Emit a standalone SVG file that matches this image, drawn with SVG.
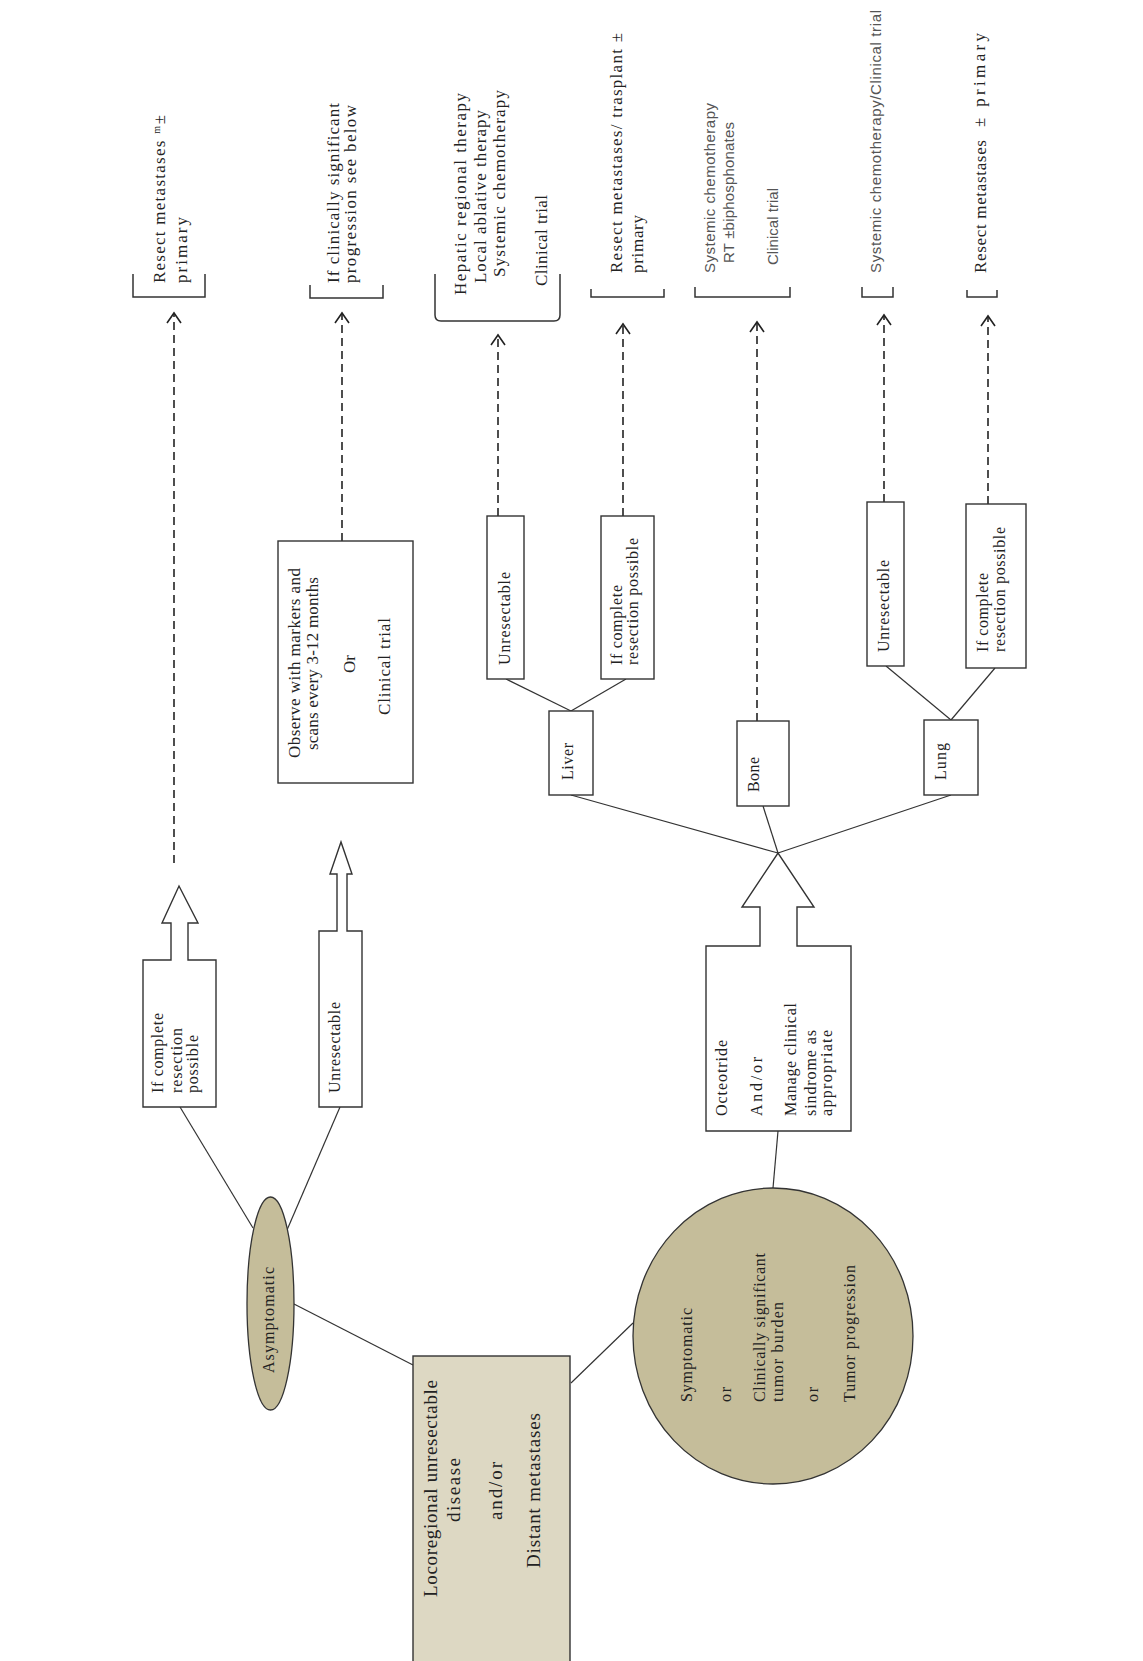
<svg xmlns="http://www.w3.org/2000/svg" width="1143" height="1661" viewBox="0 0 1143 1661">
<style>
.bg{fill:#ffffff}
.box{fill:#ffffff;stroke:#333;stroke-width:1.4}
.tan{fill:#c5bd9a;stroke:#333;stroke-width:1.3}
.ltan{fill:#ddd8c3;stroke:#333;stroke-width:1.4}
.ln{stroke:#333;stroke-width:1.2;fill:none}
.dash{stroke:#222;stroke-width:1.6;fill:none;stroke-dasharray:8 5}
.br{stroke:#333;stroke-width:1.5;fill:none}
.t{font-family:"Liberation Serif","DejaVu Serif",serif;font-size:17px;fill:#222}
.tl{font-family:"Liberation Serif","DejaVu Serif",serif;font-size:19px;fill:#222}
.ts{font-family:"Liberation Serif","DejaVu Serif",serif;font-size:16px;fill:#222}
.s{font-family:"Liberation Sans","Open Sans",sans-serif;font-size:15px;fill:#555}
</style>
<rect class="bg" x="0" y="0" width="1143" height="1661"/>

<g id="connectors">
<line class="dash" x1="174" y1="863" x2="174" y2="313"/>
<line class="dash" x1="342" y1="541" x2="342" y2="313"/>
<line class="dash" x1="498" y1="516" x2="498" y2="335"/>
<line class="dash" x1="623" y1="516" x2="623" y2="324"/>
<line class="dash" x1="757" y1="721" x2="757" y2="322"/>
<line class="dash" x1="884" y1="502" x2="884" y2="315"/>
<line class="dash" x1="988" y1="504" x2="988" y2="316"/>
<g fill="none" stroke="#222" stroke-width="1.6">
<path d="M167,323 L174,313 L181,323"/>
<path d="M335,323 L342,313 L349,323"/>
<path d="M491,345 L498,335 L505,345"/>
<path d="M616,334 L623,324 L630,334"/>
<path d="M750,332 L757,322 L764,332"/>
<path d="M877,325 L884,315 L891,325"/>
<path d="M981,326 L988,316 L995,326"/>
</g>
<line class="ln" x1="253" y1="1228" x2="180" y2="1107"/>
<line class="ln" x1="287" y1="1230" x2="340" y2="1107"/>
<line class="ln" x1="294" y1="1304" x2="413" y2="1365"/>
<line class="ln" x1="571" y1="1383" x2="633" y2="1323"/>
<line class="ln" x1="773" y1="1188" x2="778" y2="1131"/>
<line class="ln" x1="571" y1="795" x2="778" y2="853"/>
<line class="ln" x1="763" y1="806" x2="778" y2="853"/>
<line class="ln" x1="951" y1="795" x2="778" y2="853"/>
<line class="ln" x1="571" y1="711" x2="506" y2="679"/>
<line class="ln" x1="571" y1="711" x2="626" y2="679"/>
<line class="ln" x1="951" y1="720" x2="886" y2="666"/>
<line class="ln" x1="951" y1="720" x2="995" y2="668"/>
</g>

<g id="outcome-1">
<path class="br" d="M133,274 L133,297 L205,297 L205,274"/>
<text class="t" transform="translate(165,283) rotate(-90)" textLength="168" lengthAdjust="spacing">Resect metastases ᵐ±</text>
<text class="t" transform="translate(187,283) rotate(-90)" textLength="66" lengthAdjust="spacing">primary</text>
</g>
<g id="outcome-2">
<path class="br" d="M310,285 L310,298 L383,298 L383,285"/>
<text class="t" transform="translate(339,283) rotate(-90)" textLength="180" lengthAdjust="spacing">If clinically significant</text>
<text class="t" transform="translate(356,283) rotate(-90)" textLength="178" lengthAdjust="spacing">progression see below</text>
</g>
<g id="outcome-3">
<path class="br" d="M435,274 L435,315 Q435,321 441,321 L554,321 Q560,321 560,315 L560,274"/>
<text class="t" transform="translate(466,295) rotate(-90)" textLength="202" lengthAdjust="spacing">Hepatic regional therapy</text>
<text class="t" transform="translate(486,283) rotate(-90)" textLength="173" lengthAdjust="spacing">Local ablative therapy</text>
<text class="t" transform="translate(505,277) rotate(-90)" textLength="187" lengthAdjust="spacing">Systemic chemotherapy</text>
<text class="t" transform="translate(547,286) rotate(-90)" textLength="91" lengthAdjust="spacing">Clinical trial</text>
</g>
<g id="outcome-4">
<path class="br" d="M591,289 L591,297 L664,297 L664,289"/>
<text class="t" transform="translate(622,273) rotate(-90)" textLength="240" lengthAdjust="spacing">Resect metastases/ trasplant ±</text>
<text class="t" transform="translate(643,273) rotate(-90)" textLength="58" lengthAdjust="spacing">primary</text>
</g>
<g id="outcome-5">
<path class="br" d="M695,287 L695,297 L790,297 L790,287"/>
<text class="s" transform="translate(715,273) rotate(-90)" textLength="170" lengthAdjust="spacing">Systemic chemotherapy</text>
<text class="s" transform="translate(734,263) rotate(-90)" textLength="141" lengthAdjust="spacing">RT ±biphosphonates</text>
<text class="s" transform="translate(778,265) rotate(-90)" textLength="77" lengthAdjust="spacing">Clinical trial</text>
</g>
<g id="outcome-6">
<path class="br" d="M862,287 L862,297 L893,297 L893,287"/>
<text class="s" transform="translate(881,273) rotate(-90)" textLength="263" lengthAdjust="spacing">Systemic chemotherapy/Clinical trial</text>
</g>
<g id="outcome-7">
<path class="br" d="M967,290 L967,297 L997,297 L997,290"/>
<text class="t" transform="translate(986,273) rotate(-90)" textLength="133" lengthAdjust="spacing">Resect metastases</text>
<text class="t" transform="translate(985,127) rotate(-90)" textLength="94" lengthAdjust="spacing">± primary</text>
</g>

<g id="observe">
<rect class="box" x="278" y="541" width="135" height="242"/>
<text class="t" transform="translate(300,758) rotate(-90)" textLength="190" lengthAdjust="spacing">Observe with markers and</text>
<text class="t" transform="translate(318,750) rotate(-90)" textLength="173" lengthAdjust="spacing">scans every 3-12 months</text>
<text class="t" transform="translate(355,673) rotate(-90)" textLength="18" lengthAdjust="spacing">Or</text>
<text class="t" transform="translate(390,715) rotate(-90)" textLength="97" lengthAdjust="spacing">Clinical trial</text>
</g>

<g id="asym-resectable">
<path class="box" d="M143,1107 L143,960 L171,960 L171,923 L162,923 L179,886 L198,923 L188,923 L188,960 L216,960 L216,1107 Z"/>
<text class="ts" transform="translate(163,1093) rotate(-90)" textLength="80" lengthAdjust="spacing">If complete</text>
<text class="ts" transform="translate(182,1093) rotate(-90)" textLength="65" lengthAdjust="spacing">resection</text>
<text class="ts" transform="translate(198,1093) rotate(-90)" textLength="58" lengthAdjust="spacing">possible</text>
</g>
<g id="asym-unresectable">
<path class="box" d="M319,1107 L319,931 L337,931 L337,874 L330,874 L341,842 L352,874 L347,874 L347,931 L362,931 L362,1107 Z"/>
<text class="ts" transform="translate(340,1093) rotate(-90)" textLength="91" lengthAdjust="spacing">Unresectable</text>
</g>

<g id="liver-unresectable">
<rect class="box" x="487" y="516" width="37" height="163"/>
<text class="ts" transform="translate(510,665) rotate(-90)" textLength="93" lengthAdjust="spacing">Unresectable</text>
</g>
<g id="liver-resectable">
<rect class="box" x="601" y="516" width="53" height="163"/>
<text class="ts" transform="translate(622,665) rotate(-90)" textLength="80" lengthAdjust="spacing">If complete</text>
<text class="ts" transform="translate(638,665) rotate(-90)" textLength="127" lengthAdjust="spacing">resection possible</text>
</g>
<g id="liver">
<rect class="box" x="549" y="711" width="44" height="84"/>
<text class="ts" transform="translate(573,780) rotate(-90)" textLength="37" lengthAdjust="spacing">Liver</text>
</g>
<g id="bone">
<rect class="box" x="737" y="721" width="52" height="85"/>
<text class="ts" transform="translate(759,792) rotate(-90)" textLength="35" lengthAdjust="spacing">Bone</text>
</g>
<g id="lung-unresectable">
<rect class="box" x="867" y="502" width="37" height="164"/>
<text class="ts" transform="translate(889,652) rotate(-90)" textLength="92" lengthAdjust="spacing">Unresectable</text>
</g>
<g id="lung-resectable">
<rect class="box" x="966" y="504" width="60" height="164"/>
<text class="ts" transform="translate(988,652) rotate(-90)" textLength="79" lengthAdjust="spacing">If complete</text>
<text class="ts" transform="translate(1005,652) rotate(-90)" textLength="125" lengthAdjust="spacing">resection possible</text>
</g>
<g id="lung">
<rect class="box" x="924" y="720" width="54" height="75"/>
<text class="ts" transform="translate(946,780) rotate(-90)" textLength="37" lengthAdjust="spacing">Lung</text>
</g>

<g id="octreotide">
<path class="box" d="M706,1131 L706,946 L760,946 L760,907 L742,907 L778,853 L814,907 L797,907 L797,946 L851,946 L851,1131 Z"/>
<text class="ts" transform="translate(727,1116) rotate(-90)" textLength="76" lengthAdjust="spacing">Octeotride</text>
<text class="ts" transform="translate(762,1116) rotate(-90)" textLength="59" lengthAdjust="spacing">And/or</text>
<text class="ts" transform="translate(796,1116) rotate(-90)" textLength="113" lengthAdjust="spacing">Manage clinical</text>
<text class="ts" transform="translate(816,1116) rotate(-90)" textLength="86" lengthAdjust="spacing">sindrome as</text>
<text class="ts" transform="translate(832,1116) rotate(-90)" textLength="86" lengthAdjust="spacing">appropriate</text>
</g>

<g id="symptomatic">
<ellipse class="tan" cx="773" cy="1336" rx="140" ry="148"/>
<text class="ts" transform="translate(692,1402) rotate(-90)" textLength="94" lengthAdjust="spacing">Symptomatic</text>
<text class="ts" transform="translate(731,1402) rotate(-90)" textLength="15" lengthAdjust="spacing">or</text>
<text class="ts" transform="translate(765,1402) rotate(-90)" textLength="149" lengthAdjust="spacing">Clinically significant</text>
<text class="ts" transform="translate(783,1402) rotate(-90)" textLength="100" lengthAdjust="spacing">tumor burden</text>
<text class="ts" transform="translate(818,1402) rotate(-90)" textLength="15" lengthAdjust="spacing">or</text>
<text class="ts" transform="translate(855,1402) rotate(-90)" textLength="137" lengthAdjust="spacing">Tumor progression</text>
</g>

<g id="asymptomatic">
<ellipse class="tan" cx="270.5" cy="1303.5" rx="23.5" ry="106.5"/>
<text class="ts" font-size="14.5" transform="translate(274,1373) rotate(-90)" textLength="106" lengthAdjust="spacing">Asymptomatic</text>
</g>

<g id="locoregional">
<rect class="ltan" x="413" y="1356" width="157" height="320"/>
<text class="tl" transform="translate(437,1597) rotate(-90)" textLength="217" lengthAdjust="spacing">Locoregional unresectable</text>
<text class="tl" transform="translate(460,1522) rotate(-90)" textLength="64" lengthAdjust="spacing">disease</text>
<text class="tl" transform="translate(502,1520) rotate(-90)" textLength="58" lengthAdjust="spacing">and/or</text>
<text class="tl" transform="translate(540,1568) rotate(-90)" textLength="155" lengthAdjust="spacing">Distant metastases</text>
</g>
</svg>
